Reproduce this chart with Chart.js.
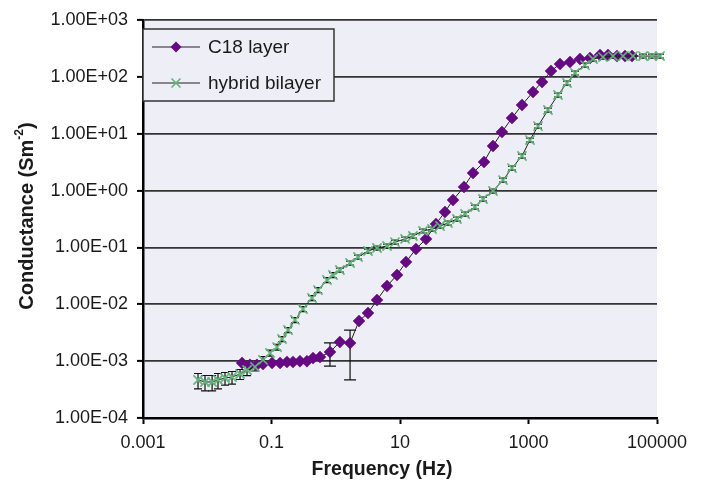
<!DOCTYPE html>
<html>
<head>
<meta charset="utf-8">
<script src="https://cdn.jsdelivr.net/npm/chart.js@4.4.1/dist/chart.umd.min.js"></script>
<style>
    html, body { margin: 0; padding: 0; background: #fff; }
    #wrap { width: 707px; height: 486px; }
</style>
</head>
<body>
<div id="wrap"><canvas id="chart" width="707" height="486"></canvas></div>
<script>
// tick values and labels
const xTickValues = [0.001, 0.1, 10, 1000, 100000];
const xTickLabels = ['0.001', '0.1', '10', '1000', '100000'];
const yTickValues = [1e-4, 1e-3, 1e-2, 1e-1, 1e0, 1e1, 1e2, 1e3];
const yTickLabels = ['1.00E-04', '1.00E-03', '1.00E-02', '1.00E-01', '1.00E+00', '1.00E+01', '1.00E+02', '1.00E+03'];

const seriesNames = ['C18 layer', 'hybrid bilayer'];
const xTitle = 'Frequency (Hz)';
const yTitle = 'Conductance (Sm';
const yTitleSup = '-2';

// C18 layer
const c18Freq = [0.0348, 0.0462, 0.0594, 0.0738, 0.102, 0.136, 0.174, 0.216, 0.277, 0.356,
    0.443, 0.569, 0.813, 1.16, 1.67, 2.30, 3.18, 4.39, 6.28, 8.98,
    12.4, 17.7, 25.4, 36.3, 50.1, 66.8, 99.1, 137, 203, 280,
    386, 553, 792, 1175, 1622, 2239, 3090, 4426, 6324, 9057,
    12970, 17260, 23820, 31770, 40830];
const c18Cond = [9.3e-4, 8.6e-4, 8.6e-4, 8.9e-4, 9.3e-4, 9.3e-4, 9.7e-4, 9.7e-4, 1.0e-3, 1.0e-3,
    1.13e-3, 1.18e-3, 1.45e-3, 2.17e-3, 2.08e-3, 5.08e-3, 7.03e-3, 0.0119, 0.0209, 0.0327,
    0.0555, 0.0938, 0.141, 0.258, 0.420, 0.683, 1.16, 2.04, 3.18, 6.08,
    10.7, 18.9, 32.0, 54.1, 81.1, 127, 168, 182, 206, 214,
    242, 242, 232, 232, 232];
// the two visible error bars on the C18 curve
const c18ErrIndex = [12, 14];
const c18ErrLow = [8.2e-4, 4.7e-4];
const c18ErrHigh = [2.1e-3, 3.5e-3];

// hybrid bilayer
const hybridFreq = [0.00718, 0.00923, 0.0119, 0.0147, 0.0189, 0.0243, 0.0324, 0.0416, 0.0553, 0.0738,
    0.0948, 0.122, 0.146, 0.181, 0.232, 0.309, 0.427, 0.530, 0.731, 0.906,
    1.16, 1.67, 2.22, 3.18, 4.39, 6.28, 8.36, 12.0, 15.9, 22.8,
    31.5, 42.0, 55.8, 77.1, 103, 147, 196, 280, 401, 553,
    792, 1054, 1406, 2009, 2877, 3972, 5297, 7568, 10090, 14420,
    20650, 29580, 42270, 60530, 83560, 111400];
const hybridCond = [4.66e-4, 4.30e-4, 4.30e-4, 4.66e-4, 5.05e-4, 5.26e-4, 5.94e-4, 6.98e-4, 7.89e-4, 1.05e-3,
    1.39e-3, 1.77e-3, 2.45e-3, 3.53e-3, 5.30e-3, 8.26e-3, 0.0129, 0.0178, 0.0267, 0.0327,
    0.0401, 0.0532, 0.0678, 0.0865, 0.0977, 0.106, 0.124, 0.141, 0.159, 0.195,
    0.211, 0.238, 0.269, 0.316, 0.387, 0.514, 0.711, 0.982, 1.53, 2.49,
    4.06, 7.74, 13.6, 26.1, 48.0, 78.0, 117, 161, 206, 223,
    232, 232, 232, 232, 232, 232];
// relative error (half width) on each hybrid point
const hybridErr = [0.3, 0.3, 0.3, 0.3, 0.25, 0.25, 0.2, 0.2, 0.15, 0.15,
    0.12, 0.12, 0.1, 0.1, 0.1, 0.1, 0.1, 0.1, 0.1, 0.1,
    0.08, 0.08, 0.08, 0.08, 0.08, 0.08, 0.08, 0.08, 0.08, 0.08,
    0.08, 0.08, 0.08, 0.08, 0.08, 0.08, 0.08, 0.08, 0.08, 0.08,
    0.08, 0.08, 0.08, 0.08, 0.08, 0.08, 0.08, 0.08, 0.08, 0.08,
    0.08, 0.08, 0.08, 0.08, 0.08, 0.08];

const purple = '#650a82';
const green = '#62b477';
const plotBg = '#eeeef6';
const fontFamily = '"Liberation Sans", Arial, sans-serif';

function toPoints(xs, ys) {
    return xs.map((x, i) => ({ x: x, y: ys[i] }));
}

const bgPlugin = {
    id: 'plotBg',
    beforeDraw(chart) {
        const ctx = chart.ctx;
        const a = chart.chartArea;
        ctx.save();
        ctx.fillStyle = '#ffffff';
        ctx.fillRect(0, 0, chart.width, chart.height);
        ctx.fillStyle = plotBg;
        ctx.fillRect(a.left, a.top, a.right - a.left, a.bottom - a.top);
        ctx.restore();
    }
};

function drawErrBar(ctx, xs, ys, x, lo, hi, half) {
    const px = xs.getPixelForValue(x);
    const p1 = ys.getPixelForValue(lo);
    const p2 = ys.getPixelForValue(hi);
    ctx.beginPath();
    ctx.moveTo(px, p1);
    ctx.lineTo(px, p2);
    ctx.moveTo(px - half, p1);
    ctx.lineTo(px + half, p1);
    ctx.moveTo(px - half, p2);
    ctx.lineTo(px + half, p2);
    ctx.stroke();
}

const errPlugin = {
    id: 'errBars',
    beforeDatasetsDraw(chart) {
        const ctx = chart.ctx;
        const xs = chart.scales.x;
        const ys = chart.scales.y;
        ctx.save();
        ctx.strokeStyle = '#111';
        ctx.lineWidth = 1.2;
        hybridFreq.forEach((f, i) => {
            const v = hybridCond[i];
            drawErrBar(ctx, xs, ys, f, v * (1 - hybridErr[i]), v * (1 + hybridErr[i]), 4);
        });
        c18ErrIndex.forEach((idx, k) => {
            drawErrBar(ctx, xs, ys, c18Freq[idx], c18ErrLow[k], c18ErrHigh[k], 6);
        });
        ctx.restore();
    }
};

function diamond(ctx, x, y, r) {
    ctx.beginPath();
    ctx.moveTo(x, y - r);
    ctx.lineTo(x + r, y);
    ctx.lineTo(x, y + r);
    ctx.lineTo(x - r, y);
    ctx.closePath();
    ctx.fill();
}

function cross(ctx, x, y, r) {
    ctx.beginPath();
    ctx.moveTo(x - r, y - r);
    ctx.lineTo(x + r, y + r);
    ctx.moveTo(x + r, y - r);
    ctx.lineTo(x - r, y + r);
    ctx.stroke();
}

const legendPlugin = {
    id: 'boxLegend',
    afterDatasetsDraw(chart) {
        const ctx = chart.ctx;
        const left = chart.chartArea.left;
        const top = 29;
        const w = 191;
        const h = 72;
        ctx.save();
        ctx.fillStyle = plotBg;
        ctx.fillRect(left, top, w, h);
        ctx.strokeStyle = '#333';
        ctx.lineWidth = 1.5;
        ctx.strokeRect(left, top, w, h);

        const rows = [top + 18, top + 54];
        rows.forEach((y) => {
            ctx.strokeStyle = '#222';
            ctx.lineWidth = 1.2;
            ctx.beginPath();
            ctx.moveTo(left + 9, y);
            ctx.lineTo(left + 57, y);
            ctx.stroke();
        });
        ctx.fillStyle = purple;
        diamond(ctx, left + 33, rows[0], 5.5);
        ctx.strokeStyle = green;
        ctx.lineWidth = 1.6;
        cross(ctx, left + 33, rows[1], 4.5);

        ctx.fillStyle = '#1a1a1a';
        ctx.font = '19px ' + fontFamily;
        ctx.textAlign = 'left';
        ctx.textBaseline = 'middle';
        ctx.fillText(seriesNames[0], left + 65, rows[0] + 1);
        ctx.fillText(seriesNames[1], left + 65, rows[1] + 1);
        ctx.restore();
    }
};

const titlePlugin = {
    id: 'axisTitles',
    afterDraw(chart) {
        const ctx = chart.ctx;
        ctx.save();
        ctx.fillStyle = '#1a1a1a';
        ctx.font = 'bold 19.5px ' + fontFamily;
        ctx.textAlign = 'center';
        ctx.textBaseline = 'middle';
        ctx.fillText(xTitle, 382, 470);

        // vertical title with superscript
        ctx.translate(27, 216);
        ctx.rotate(-Math.PI / 2);
        const mainFont = 'bold 20px ' + fontFamily;
        const supFont = 'bold 12px ' + fontFamily;
        ctx.font = mainFont;
        const w1 = ctx.measureText(yTitle).width;
        const w3 = ctx.measureText(')').width;
        ctx.font = supFont;
        const w2 = ctx.measureText(yTitleSup).width;
        let x = -(w1 + w2 + w3) / 2;
        ctx.textAlign = 'left';
        ctx.font = mainFont;
        ctx.fillText(yTitle, x, 0);
        x += w1;
        ctx.font = supFont;
        ctx.fillText(yTitleSup, x, -7);
        x += w2;
        ctx.font = mainFont;
        ctx.fillText(')', x, 0);
        ctx.restore();
    }
};

const ctx = document.getElementById('chart').getContext('2d');
new Chart(ctx, {
    type: 'scatter',
    data: {
        datasets: [{
            label: seriesNames[0],
            data: toPoints(c18Freq, c18Cond),
            showLine: true,
            borderColor: '#1e1e1e',
            borderWidth: 1,
            pointStyle: 'rectRot',
            pointRadius: 6,
            pointBackgroundColor: purple,
            pointBorderColor: purple,
            pointBorderWidth: 0.5,
            order: 1,
            clip: false
        }, {
            label: seriesNames[1],
            data: toPoints(hybridFreq, hybridCond),
            showLine: true,
            borderColor: '#1e1e1e',
            borderWidth: 1,
            pointStyle: 'crossRot',
            pointRadius: 6.5,
            pointBackgroundColor: green,
            pointBorderColor: green,
            pointBorderWidth: 1.6,
            order: 0,
            clip: false
        }]
    },
    options: {
        responsive: false,
        animation: false,
        devicePixelRatio: 1,
        layout: {
            padding: { left: 0, right: 50, top: 20, bottom: 0 }
        },
        plugins: {
            legend: { display: false },
            tooltip: { enabled: false }
        },
        scales: {
            x: {
                type: 'logarithmic',
                min: 0.001,
                max: 100000,
                afterBuildTicks: (scale) => {
                    scale.ticks = xTickValues.map(v => ({ value: v }));
                },
                afterFit: (scale) => { scale.height = 68; },
                grid: {
                    drawOnChartArea: false,
                    drawTicks: true,
                    tickLength: 6,
                    tickColor: '#000',
                    tickWidth: 2
                },
                border: { color: '#000', width: 2.5 },
                ticks: {
                    autoSkip: false,
                    maxRotation: 0,
                    padding: 8,
                    color: '#1a1a1a',
                    font: { family: fontFamily, size: 18 },
                    callback: (value, index) => xTickLabels[index]
                }
            },
            y: {
                type: 'logarithmic',
                min: 1e-4,
                max: 1e3,
                afterBuildTicks: (scale) => {
                    scale.ticks = yTickValues.map(v => ({ value: v }));
                },
                afterFit: (scale) => { scale.width = 143; },
                grid: {
                    color: '#333',
                    lineWidth: 1.8,
                    drawTicks: true,
                    tickLength: 6,
                    tickColor: '#000',
                    tickWidth: 2
                },
                border: { color: '#000', width: 2.5 },
                ticks: {
                    autoSkip: false,
                    padding: 9,
                    color: '#1a1a1a',
                    font: { family: fontFamily, size: 18 },
                    callback: (value, index) => yTickLabels[index]
                }
            }
        }
    },
    plugins: [bgPlugin, errPlugin, legendPlugin, titlePlugin]
});
</script>
</body>
</html>
